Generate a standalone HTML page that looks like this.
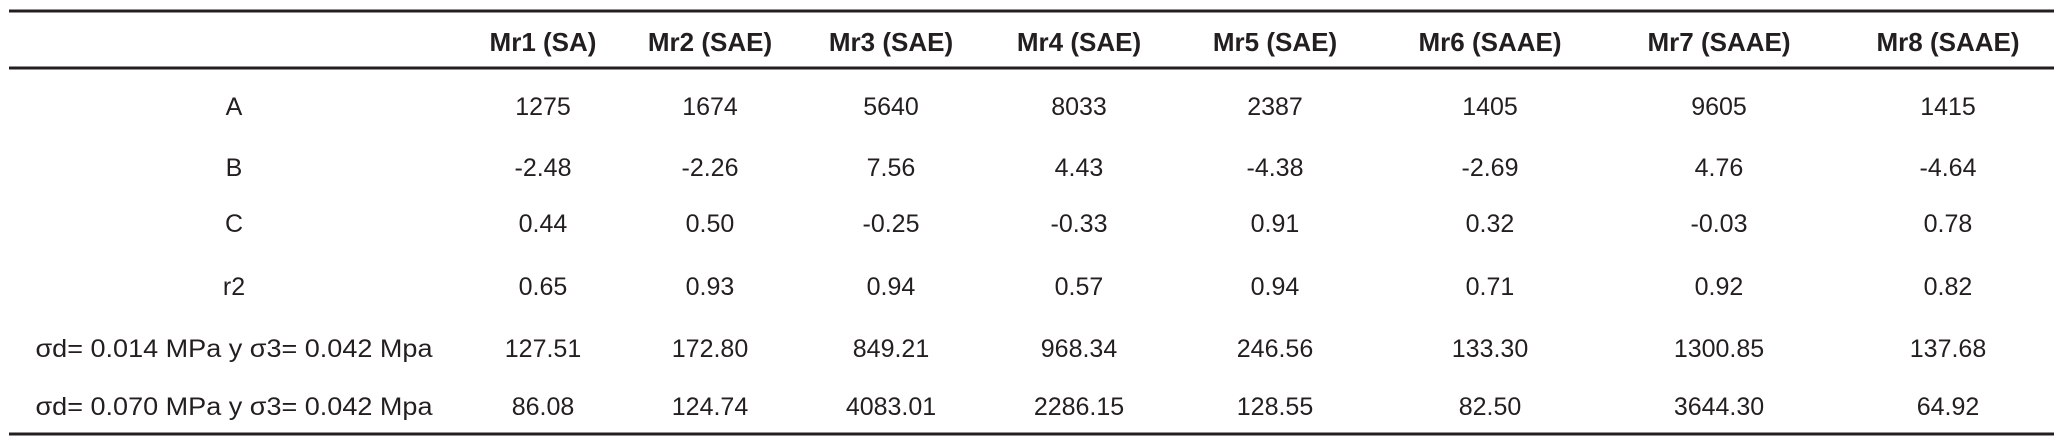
<!DOCTYPE html>
<html><head><meta charset="utf-8"><style>
html,body{margin:0;padding:0;background:#fff;}
svg{display:block;}
text{font-family:"Liberation Sans",sans-serif;fill:#231f20;}
.h{font-weight:bold;font-size:26px;}
.c{font-size:25px;}
</style></head><body>
<svg id="tbl" width="2061" height="443" viewBox="0 0 2061 443" xmlns="http://www.w3.org/2000/svg">
<line x1="9" y1="11" x2="2054" y2="11" stroke="#231f20" stroke-width="3"/>
<line x1="9" y1="68" x2="2054" y2="68" stroke="#231f20" stroke-width="3"/>
<line x1="9" y1="434" x2="2054" y2="434" stroke="#231f20" stroke-width="3"/>
</svg>
<script>
const headers=["Mr1 (SA)","Mr2 (SAE)","Mr3 (SAE)","Mr4 (SAE)","Mr5 (SAE)","Mr6 (SAAE)","Mr7 (SAAE)","Mr8 (SAAE)"];
const rowLabels=["A","B","C","r2","σd= 0.014 MPa y σ3= 0.042 Mpa","σd= 0.070 MPa y σ3= 0.042 Mpa"];
const rowA=["1275","1674","5640","8033","2387","1405","9605","1415"];
const rowB=["-2.48","-2.26","7.56","4.43","-4.38","-2.69","4.76","-4.64"];
const rowC=["0.44","0.50","-0.25","-0.33","0.91","0.32","-0.03","0.78"];
const rowR2=["0.65","0.93","0.94","0.57","0.94","0.71","0.92","0.82"];
const rowS1=["127.51","172.80","849.21","968.34","246.56","133.30","1300.85","137.68"];
const rowS2=["86.08","124.74","4083.01","2286.15","128.55","82.50","3644.30","64.92"];
const rows=[rowA,rowB,rowC,rowR2,rowS1,rowS2];
const colX=[543,710,891,1079,1275,1490,1719,1948];
const labelX=234;
const headerY=51;
const rowY=[115,176,232,295,357,415];
const svg=document.getElementById('tbl');
const NS="http://www.w3.org/2000/svg";
function t(x,y,s,cls){const e=document.createElementNS(NS,'text');e.setAttribute('x',x);e.setAttribute('y',y);e.setAttribute('text-anchor','middle');e.setAttribute('class',cls);e.textContent=s;svg.appendChild(e);return e;}
headers.forEach((h,i)=>{const e=t(colX[i],headerY,h,'h');

});
rowLabels.forEach((l,r)=>{const e=t(labelX,rowY[r],l,'c');
if(l.length>10){e.setAttribute('textLength','397');e.setAttribute('lengthAdjust','spacingAndGlyphs');}


rows[r].forEach((v,i)=>{const c=t(colX[i],rowY[r],v,'c');

});});
</script>
</body></html>
